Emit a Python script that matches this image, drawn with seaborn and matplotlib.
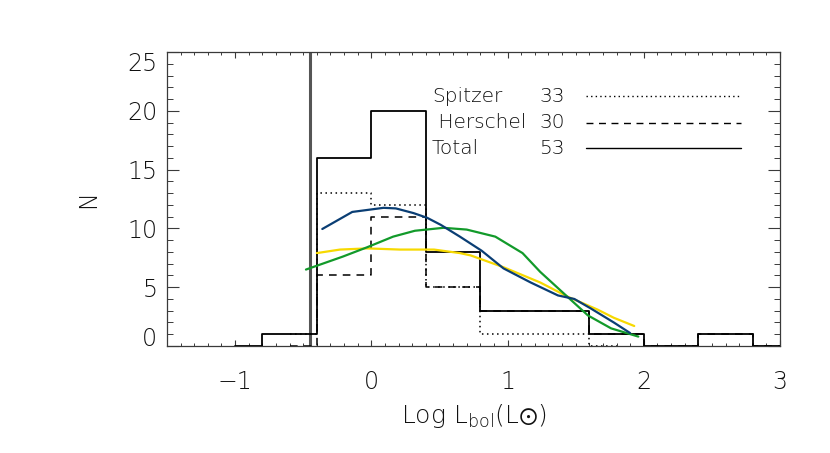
import numpy as np
import pandas as pd
import matplotlib
matplotlib.use("Agg")
import matplotlib.pyplot as plt
from matplotlib.lines import Line2D
from matplotlib.ticker import MultipleLocator
import seaborn as sns

# ---------------- data ----------------
# histogram bin centres (bin width 0.4) and counts
total_x = [-1.0, -0.6, -0.2, 0.2, 0.6, 1.0, 1.4, 1.8, 2.2, 2.6, 3.0]
total_n = [0, 1, 16, 20, 8, 3, 3, 1, 0, 1, 0]
spitzer_x = [-0.6, -0.2, 0.2, 0.6, 1.0, 1.4, 1.8]
spitzer_n = [1, 13, 12, 5, 1, 1, 0]
herschel_x = [-0.6, -0.2, 0.2, 0.6, 1.0, 1.4, 1.8, 2.2, 2.6, 3.0]
herschel_n = [0, 6, 11, 5, 3, 3, 1, 0, 1, 0]

# model curves
blue_x = [-0.36, -0.14, 0.09, 0.18, 0.31, 0.41, 0.51, 0.65, 0.81, 0.97, 1.17, 1.37, 1.49, 1.61, 1.78, 1.90]
blue_y = [9.95, 11.4, 11.75, 11.7, 11.3, 10.9, 10.3, 9.3, 8.1, 6.6, 5.4, 4.3, 4.0, 3.2, 2.0, 1.1]
green_x = [-0.48, -0.21, -0.03, 0.16, 0.32, 0.53, 0.70, 0.91, 1.11, 1.24, 1.41, 1.59, 1.76, 1.96]
green_y = [6.5, 7.6, 8.4, 9.3, 9.8, 10.05, 9.9, 9.3, 7.9, 6.3, 4.5, 2.6, 1.5, 0.8]
yellow_x = [-0.40, -0.23, -0.03, 0.21, 0.46, 0.65, 0.73, 0.97, 1.24, 1.44, 1.66, 1.78, 1.93]
yellow_y = [7.9, 8.2, 8.3, 8.2, 8.2, 7.9, 7.7, 6.7, 5.4, 4.2, 3.1, 2.4, 1.7]

threshold_x = -0.45

legend_names = ["Spitzer", " Herschel", "Total"]
legend_counts = ["33", "30", "53"]

xticks = [-1, 0, 1, 2, 3]
yticks = [0, 5, 10, 15, 20, 25]

# ---------------- style ----------------
sns.set_style("ticks")
plt.rcParams["font.family"] = ["DejaVu Sans"]
plt.rcParams["font.weight"] = "light"
plt.rcParams["axes.labelweight"] = "light"
plt.rcParams["text.color"] = "#111111"
plt.rcParams["axes.labelcolor"] = "#111111"
plt.rcParams["xtick.labelcolor"] = "#111111"
plt.rcParams["ytick.labelcolor"] = "#111111"

fig = plt.figure(figsize=(8.3, 4.53), dpi=100)
ax = fig.add_axes([167 / 830, 1 - 346 / 453, 613 / 830, 294 / 453])

axc = "#3a3a3a"

ax.axvline(threshold_x, color="#555555", lw=2.2, zorder=1)

sns.lineplot(x=herschel_x, y=herschel_n, ax=ax, drawstyle="steps-mid", color="black",
             lw=1.1, linestyle=(0, (5, 4)), estimator=None, sort=False, zorder=2)
sns.lineplot(x=spitzer_x, y=spitzer_n, ax=ax, drawstyle="steps-mid", color="black",
             lw=1.1, linestyle=(0, (1, 2.3)), estimator=None, sort=False, zorder=3)
sns.lineplot(x=total_x, y=total_n, ax=ax, drawstyle="steps-mid", color="black",
             lw=1.3, estimator=None, sort=False, zorder=4)

sns.lineplot(x=yellow_x, y=yellow_y, ax=ax, color="#f7d900", lw=1.6, estimator=None, sort=False, zorder=5)
sns.lineplot(x=green_x, y=green_y, ax=ax, color="#129a2a", lw=1.6, estimator=None, sort=False, zorder=6)
sns.lineplot(x=blue_x, y=blue_y, ax=ax, color="#0a3e74", lw=1.6, estimator=None, sort=False, zorder=7)

ax.set_xlim(-1.5, 3.0)
ax.set_ylim(0, 25)
ax.set_xticks(xticks)
ax.set_yticks(yticks)
ax.xaxis.set_minor_locator(MultipleLocator(0.1))
ax.yaxis.set_minor_locator(MultipleLocator(1))
ax.tick_params(axis="x", which="major", direction="in", length=6 / 1.389, width=0.8,
               color=axc, top=True, bottom=True, pad=17, labelsize=17)
ax.tick_params(axis="x", which="minor", direction="in", length=3 / 1.389, width=0.7,
               color=axc, top=True, bottom=True)
ax.tick_params(axis="y", which="major", direction="in", length=12 / 1.389, width=0.8,
               color=axc, left=True, right=True, pad=7, labelsize=17)
ax.tick_params(axis="y", which="minor", direction="in", length=6 / 1.389, width=0.7,
               color=axc, left=True, right=True)
for s in ax.spines.values():
    s.set_color(axc)
    s.set_linewidth(0.9)

ylabs = ax.get_yticklabels()
ylabs[0].set_va("baseline")
ylabs[-1].set_va("top")

ax.set_xlabel("Log L$_{\\mathrm{bol}}$(L$\\odot$)", fontsize=18, fontweight="light")
ax.set_ylabel("N", fontsize=17, fontweight="light")
ax.xaxis.set_label_coords((474 - 167) / 613, (346 - 423) / 294)
ax.xaxis.label.set_va("baseline")
ax.yaxis.set_label_coords((88 - 167) / 613, 0.5)
ax.yaxis.label.set_va("center")

# legend (text block with line samples)
styles = [(0, (1, 2.3)), (0, (5, 4)), "-"]
ys = [96, 123, 148]
for name, cnt, st, yp in zip(legend_names, legend_counts, styles, ys):
    fy = (346 - yp) / 294
    ax.text((432 - 167) / 613, fy, name, transform=ax.transAxes, fontsize=14.5,
            va="center", ha="left")
    ax.text((539 - 167) / 613, fy, cnt, transform=ax.transAxes, fontsize=14.5,
            va="center", ha="left")
    ax.add_line(Line2D([(586 - 167) / 613, (741 - 167) / 613], [fy, fy],
                       transform=ax.transAxes, color="black", lw=1.0, linestyle=st))

fig.savefig("out.png", dpi=100)
